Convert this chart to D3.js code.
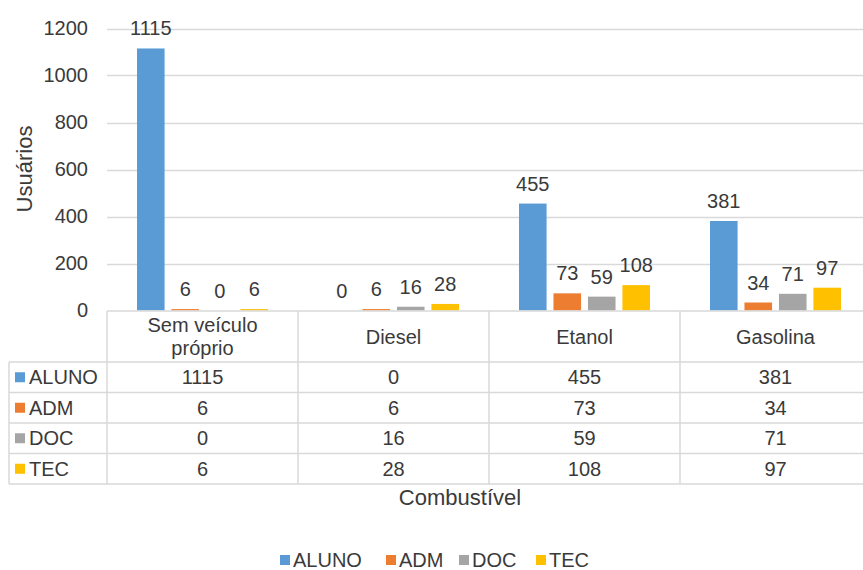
<!DOCTYPE html>
<html>
<head>
<meta charset="utf-8">
<script src="https://cdn.jsdelivr.net/npm/d3@7/dist/d3.min.js"></script>
<style>
  html, body { margin: 0; padding: 0; background: #fff; }
  svg { display: block; font-family: "Liberation Sans", Arial, sans-serif; }
</style>
</head>
<body>
<script>
// Combustível usado por categoria de usuário
const categories = ["Sem veículo próprio", "Diesel", "Etanol", "Gasolina"];
const categoryLines = [["Sem veículo", "próprio"], ["Diesel"], ["Etanol"], ["Gasolina"]];
const seriesNames = ["ALUNO", "ADM", "DOC", "TEC"];
const seriesColors = ["#5B9BD5", "#ED7D31", "#A5A5A5", "#FFC000"];
const aluno = [1115, 0, 455, 381];
const adm = [6, 6, 73, 34];
const doc = [0, 16, 59, 71];
const tec = [6, 28, 108, 97];
const yTicks = [0, 200, 400, 600, 800, 1000, 1200];

const seriesValues = [aluno, adm, doc, tec];

const W = 863, H = 570;
const textColor = "#3a3a3a";
const gridColor = "#D9D9D9";
const fs = 20;      // labels, ticks, table
const titleFs = 22; // axis titles

const svg = d3.select("body").append("svg")
  .attr("width", W).attr("height", H);

const x0 = d3.scaleBand().domain(categories).range([107, 871]).padding(0);
const x1 = d3.scaleBand().domain(seriesNames)
  .range([30, x0.bandwidth() - 30]).paddingInner(0.2).paddingOuter(0);
const y = d3.scaleLinear().domain([0, 1200]).range([310.5, 28.5]);

// grid lines
svg.append("g").selectAll("line").data(yTicks.filter(t => t > 0)).join("line")
  .attr("x1", 107).attr("x2", W)
  .attr("y1", d => Math.round(y(d)) + 0.5).attr("y2", d => Math.round(y(d)) + 0.5)
  .attr("stroke", gridColor).attr("stroke-width", 1.5);

// y axis labels
const yAxis = d3.axisLeft(y).tickValues(yTicks).tickFormat(d3.format("d"))
  .tickSize(0).tickPadding(0);
const ya = svg.append("g").attr("transform", "translate(88,0)").call(yAxis);
ya.select(".domain").remove();
ya.selectAll("text").attr("font-size", fs).attr("fill", textColor)
  .attr("font-family", "Liberation Sans, Arial, sans-serif");

svg.append("text")
  .attr("transform", "translate(32,169) rotate(-90)")
  .attr("text-anchor", "middle")
  .attr("font-size", titleFs).attr("fill", textColor)
  .text("Usuários");

// bars
const groups = svg.append("g").selectAll("g").data(categories).join("g")
  .attr("transform", d => `translate(${x0(d)},0)`);

groups.each(function(cat, ci) {
  const g = d3.select(this);
  const recs = seriesNames.map((s, si) => ({ s, si, v: seriesValues[si][ci] }));
  g.selectAll("rect").data(recs).join("rect")
    .attr("x", d => x1(d.s))
    .attr("width", x1.bandwidth())
    .attr("y", d => y(d.v))
    .attr("height", d => y(0) - y(d.v))
    .attr("fill", d => seriesColors[d.si]);
  g.selectAll("text").data(recs).join("text")
    .attr("x", d => x1(d.s) + x1.bandwidth() / 2)
    .attr("y", d => y(d.v) - 13)
    .attr("text-anchor", "middle")
    .attr("font-size", fs).attr("fill", textColor)
    .text(d => d.v);
});

// data table
const tableTop = 311, headerBottom = 362;
const rowH = 30.5;
const rowTops = seriesNames.map((s, i) => headerBottom + i * rowH);
const tableBottom = headerBottom + seriesNames.length * rowH;
const tg = svg.append("g");
const lineAttrs = sel => sel.attr("stroke", gridColor).attr("stroke-width", 1.5);

tg.append("line").attr("x1", 107).attr("x2", W).attr("y1", tableTop).attr("y2", tableTop).call(lineAttrs);
[headerBottom, ...rowTops.slice(1), tableBottom].forEach(yy => {
  tg.append("line").attr("x1", 9).attr("x2", W).attr("y1", yy).attr("y2", yy).call(lineAttrs);
});
tg.append("line").attr("x1", 9).attr("x2", 9).attr("y1", headerBottom).attr("y2", tableBottom).call(lineAttrs);
categories.forEach(c => {
  tg.append("line").attr("x1", x0(c)).attr("x2", x0(c))
    .attr("y1", tableTop).attr("y2", tableBottom).call(lineAttrs);
});

// header labels
categories.forEach((c, ci) => {
  const lines = categoryLines[ci];
  const cx = x0(c) + x0.bandwidth() / 2;
  const cy = (tableTop + headerBottom) / 2;
  lines.forEach((t, li) => {
    tg.append("text")
      .attr("x", cx)
      .attr("y", cy + (li - (lines.length - 1) / 2) * 23)
      .attr("dy", "0.35em")
      .attr("text-anchor", "middle")
      .attr("font-size", fs).attr("fill", textColor)
      .text(t);
  });
});

// row keys and values
seriesNames.forEach((s, si) => {
  const cy = rowTops[si] + rowH / 2;
  tg.append("rect").attr("x", 15).attr("y", cy - 5).attr("width", 10).attr("height", 10)
    .attr("fill", seriesColors[si]);
  tg.append("text").attr("x", 29).attr("y", cy).attr("dy", "0.35em")
    .attr("font-size", fs).attr("fill", textColor).text(s);
  categories.forEach((c, ci) => {
    tg.append("text")
      .attr("x", x0(c) + x0.bandwidth() / 2)
      .attr("y", cy).attr("dy", "0.35em")
      .attr("text-anchor", "middle")
      .attr("font-size", fs).attr("fill", textColor)
      .text(seriesValues[si][ci]);
  });
});

// axis title
svg.append("text").attr("x", 460).attr("y", 497).attr("dy", "0.35em")
  .attr("text-anchor", "middle").attr("font-size", titleFs).attr("fill", textColor)
  .text("Combustível");

// legend
const legendX = [280, 386, 459, 536];
const lg = svg.append("g");
seriesNames.forEach((s, si) => {
  lg.append("rect").attr("x", legendX[si]).attr("y", 555).attr("width", 10).attr("height", 10)
    .attr("fill", seriesColors[si]);
  lg.append("text").attr("x", legendX[si] + 13).attr("y", 560).attr("dy", "0.35em")
    .attr("font-size", fs).attr("fill", textColor).text(s);
});
</script>
</body>
</html>
